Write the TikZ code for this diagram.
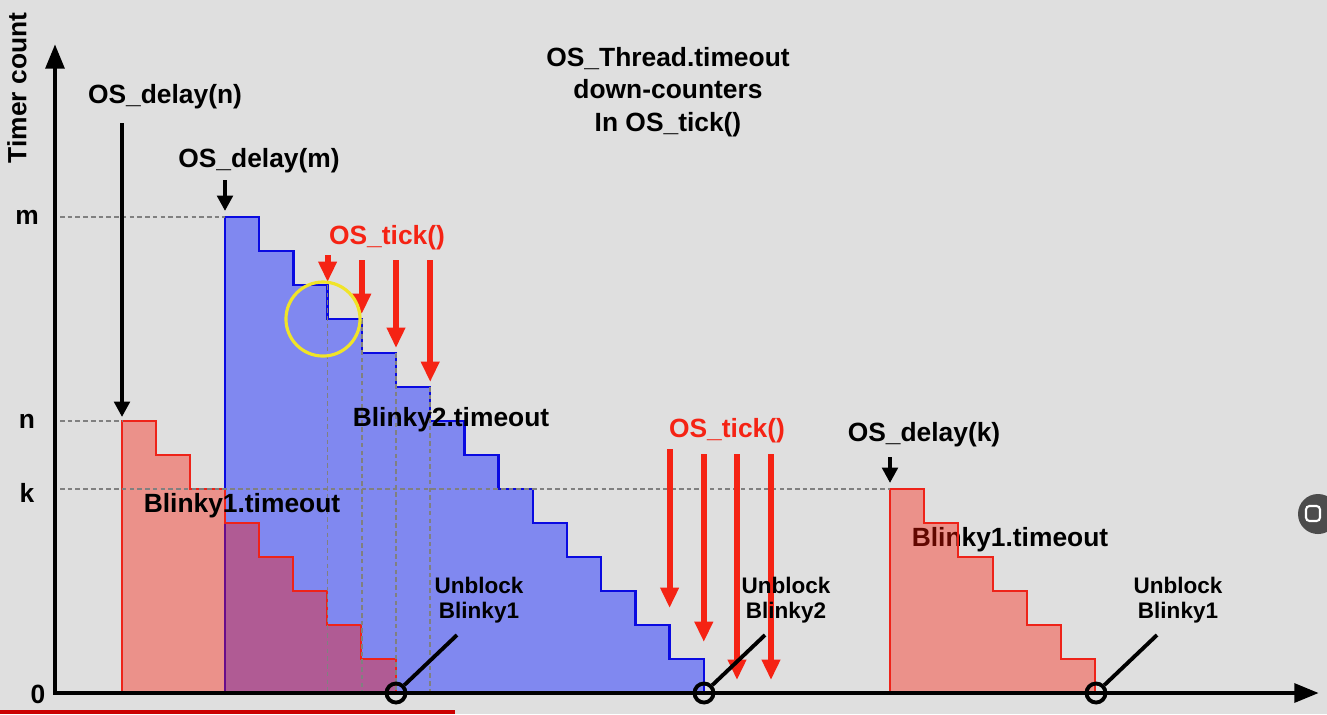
\documentclass[tikz,border=0pt]{standalone}
\usepackage{fontspec}
\setmainfont{Liberation Sans}
\usetikzlibrary{arrows.meta}

\definecolor{slidebg}{RGB}{223,223,223}
\definecolor{stepblue}{RGB}{128,136,240}
\definecolor{edgeblue}{RGB}{10,10,225}
\definecolor{stepred}{RGB}{255,20,0}
\definecolor{edgered}{RGB}{238,35,25}
\definecolor{tickred}{RGB}{245,35,20}
\definecolor{hlyellow}{RGB}{240,228,40}

\begin{document}
\begin{tikzpicture}[x=0.01cm, y=-0.01cm,
    lbl/.style={font=\bfseries\fontsize{7.5}{9.25}\selectfont, inner sep=0pt},
    sml/.style={font=\bfseries\fontsize{6.4}{7.1}\selectfont, inner sep=0pt, align=center},
    dly/.style={line width=1.2pt, -{Triangle[length=4.4pt, width=4.4pt]}},
    tck/.style={tickred, line width=1.7pt, -{Triangle[length=5.8pt, width=5pt]}},
    guide/.style={gray, line width=0.45pt, dash pattern=on 1.3pt off 0.9pt},
    ring/.style={circle, draw, line width=1.1pt, minimum size=0.19cm, inner sep=0pt},
    lead/.style={line width=1.1pt}]
  \useasboundingbox (0,0) rectangle (1327,714);
  \fill[slidebg] (0,0) rectangle (1327,714);

  \coordinate (o) at (55,693);
  \coordinate (ytip) at (55,44);
  \coordinate (xtip) at (1319,693);
  \coordinate (b1top) at (122,421);
  \coordinate (b2top) at (225,217);
  \coordinate (b3top) at (890,489);

  % timeout staircases
  \filldraw[fill=stepblue, draw=edgeblue, line width=0.7pt]
    (b2top |- o) -- (b2top) \foreach \i in {1,...,14} { -- ++(34.2,0) -- ++(0,34) } -- cycle;
  \filldraw[fill=stepred, fill opacity=0.38, draw=edgered, line width=0.6pt]
    (b1top |- o) -- (b1top) \foreach \i in {1,...,8} { -- ++(34.2,0) -- ++(0,34) } -- cycle;
  \node[lbl] (bl1b) at (1010,540) {Blinky1.timeout};
  \filldraw[fill=stepred, fill opacity=0.38, draw=edgered, line width=0.6pt]
    (b3top |- o) -- (b3top) \foreach \i in {1,...,6} { -- ++(34.2,0) -- ++(0,34) } -- cycle;

  % guide lines
  \foreach \j in {3,...,6} {
    \coordinate (c\j) at ({225+\j*34.2},{217+(\j-1)*34});
    \draw[guide] (c\j) -- (c\j |- o);
  }
  \draw[guide, shorten <=0.05cm] (o |- b2top) -- (b2top);
  \draw[guide, shorten <=0.05cm] (o |- b1top) -- (b1top);
  \draw[guide, shorten <=0.05cm] (o |- b3top) -- (b3top);

  % axes
  \draw[line width=1.4pt, {Triangle[length=7pt, width=5.2pt]}-{Triangle[length=7pt, width=5.2pt]}]
    (ytip) |- (xtip);
  \node[lbl, rotate=90] (ylab) at (17,88) {Timer count};
  \node[lbl] (lm) at (27,217) {m};
  \node[lbl] (ln) at (27,421) {n};
  \node[lbl] (lk) at (27,493) {k};
  \node[lbl] (l0) at (38,694) {0};

  \node[lbl, align=center] (title) at (668,92) {OS\_Thread.timeout\\down-counters\\In OS\_tick()};

  % OS_delay calls
  \node[lbl] (dn) at (165,97) {OS\_delay(n)};
  \node[lbl] (dm) at (259,161) {OS\_delay(m)};
  \node[lbl] (dk) at (924,435) {OS\_delay(k)};
  \draw[dly, shorten <=0.13cm, shorten >=0.04cm] (dn.south -| b1top) -- (b1top);
  \draw[dly, shorten <=0.06cm, shorten >=0.06cm] (dm.south -| b2top) -- (b2top);
  \draw[dly, shorten <=0.09cm, shorten >=0.06cm] (dk.south -| b3top) -- (b3top);

  \node[lbl] (bl2) at (451,420) {Blinky2.timeout};
  \node[lbl] (bl1a) at (242,506) {Blinky1.timeout};

  % OS_tick calls
  \node[lbl, text=tickred] (t1) at (387,238) {OS\_tick()};
  \draw[tck, shorten <=0.04cm, shorten >=0.03cm] (t1.south -| c3) -- (c3);
  \foreach \j in {4,5,6}
    \draw[tck, shorten <=0.09cm, shorten >=0.05cm] (t1.south -| c\j) -- (c\j);

  \node[lbl, text=tickred] (t2) at (727,431) {OS\_tick()};
  \coordinate (e1) at (669.6,608);
  \coordinate (e2) at (703.8,642);
  \coordinate (e3) at (737,680);
  \coordinate (e4) at (771,680);
  \draw[tck, shorten <=0.05cm] (t2.south -| e1) -- (e1);
  \foreach \j in {2,3,4}
    \draw[tck, shorten <=0.1cm] (t2.south -| e\j) -- (e\j);

  % unblock points
  \node[sml] (ub1lab) at (479,600) {Unblock\\Blinky1};
  \node[sml] (ub2lab) at (786,600) {Unblock\\Blinky2};
  \node[sml] (ub3lab) at (1178,600) {Unblock\\Blinky1};
  \node[ring] (ub1) at (396,693) {};
  \node[ring] (ub2) at (704,693) {};
  \node[ring] (ub3) at (1096,693) {};
  \coordinate (ul1) at (457,635);
  \coordinate (ul2) at (765,635);
  \coordinate (ul3) at (1157,635);
  \draw[lead] (ul1) -- (ub1);
  \draw[lead] (ul2) -- (ub2);
  \draw[lead] (ul3) -- (ub3);

  % screen overlay
  \draw[hlyellow, line width=0.9pt] (323,319) circle (0.37cm);
  \fill[red!80!black] (0,710) rectangle (455,714);
  \fill[gray!60!black] (1318,514) circle (0.2cm);
  \draw[white, line width=0.6pt, rounded corners=1pt] (1306,506) rectangle (1320,521);
\end{tikzpicture}
\end{document}
